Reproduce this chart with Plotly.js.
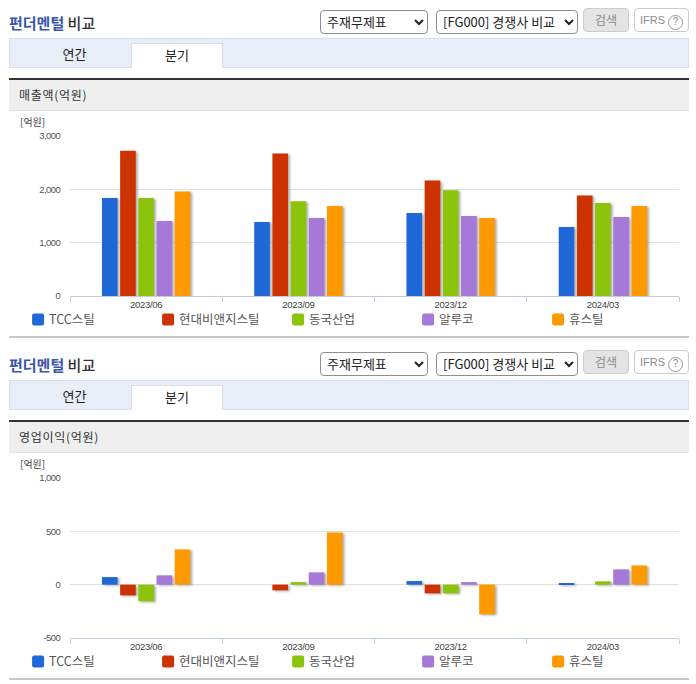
<!DOCTYPE html>
<html><head><meta charset="utf-8">
<script src="https://cdn.plot.ly/plotly-3.0.1.min.js"></script>
<style>
html,body{margin:0;padding:0;background:#fff;width:696px;height:684px;overflow:hidden;font-family:"Noto Sans CJK KR",sans-serif;}
.abs{position:absolute;box-sizing:border-box;}
.ttl{font-size:15px;font-weight:500;color:#333;left:9px;line-height:20px;white-space:nowrap;}
.ttl b{color:#3b56a8;font-weight:700;}
select{font-family:"Noto Sans CJK KR",sans-serif;font-size:13px;color:#222;background:#fff;border:1px solid #8f8f8f;border-radius:4px;padding:0 0 0 2px;height:24px;}
.btn{height:24px;border-radius:4px;font-size:12px;line-height:22px;text-align:center;color:#8c8c8c;border:1px solid #ccc;}
.tabbar{left:9px;width:680px;height:30px;background:#e8eef8;border:1px solid #d8dfea;}
.tab{height:25px;line-height:22px;font-size:13px;color:#222;text-align:center;}
.tab.on{background:#fff;border:1px solid #d8dfea;border-bottom:none;}
.dark{left:9px;width:680px;height:2px;background:#333;}
.hd{left:9px;width:680px;height:31px;background:#efefef;border-bottom:1px solid #e2e2e2;font-size:12px;line-height:30px;color:#333;padding-left:10px;letter-spacing:.7px;}
.unit{left:20px;font-size:10px;color:#444;line-height:12px;}
.sep{left:9px;width:680px;height:2px;background:#c8c8c8;}
.chart{left:0;width:696px;height:224px;}
.barlayer .point path{filter:drop-shadow(2px 1px 1px rgba(110,110,110,.55));}
.legendpoints path{d:path("M-4,-6H4A2,2 0 0 1 6,-4V4A2,2 0 0 1 4,6H-4A2,2 0 0 1 -6,4V-4A2,2 0 0 1 -4,-6Z");}
.legendsymbols{transform:translateX(9px);}
.xtick text{letter-spacing:-.3px;}
.ytick text{letter-spacing:-.6px;}
</style></head><body>
<div id="page"></div>
<script>
const categories = ["2023/06","2023/09","2023/12","2024/03"];
const seriesNames = ["TCC스틸","현대비앤지스틸","동국산업","알루코","휴스틸"];
const seriesColors = ["#2068d8","#cc3300","#8cc40c","#a678d8","#ff9900"];

const salesTcc = [1836,1389,1557,1296];
const salesHyundai = [2724,2674,2166,1886];
const salesDongkuk = [1836,1775,1985,1743];
const salesAluko = [1408,1464,1501,1482];
const salesHuSteel = [1961,1687,1464,1687];

const profitTcc = [71,null,34,12];
const profitHyundai = [-100,-53,-81,null];
const profitDongkuk = [-156,24,-81,31];
const profitAluko = [87,115,24,143];
const profitHuSteel = [330,489,-278,180];

const salesTicks = [0,1000,2000,3000];
const salesTickText = ["0","1,000","2,000","3,000"];
const profitTicks = [-500,0,500,1000];
const profitTickText = ["-500","0","500","1,000"];

const page = document.getElementById('page');
function el(cls, css, html){
  const d=document.createElement('div');
  d.className='abs '+cls;
  d.style.cssText=css;
  if(html) d.innerHTML=html;
  page.appendChild(d);
  return d;
}
function section(y, heading, chartId){
  el('ttl','top:'+(13+y)+'px','<b>펀더멘털</b> 비교');
  el('', 'left:320px;top:'+(8+y)+'px','<select style="width:108px"><option>주재무제표</option></select>');
  el('', 'left:436px;top:'+(8+y)+'px','<select style="width:142px"><option>[FG000] 경쟁사 비교</option></select>');
  el('btn','left:583px;top:'+(8+y)+'px;width:46px;background:#e4e4e4;','검색');
  el('btn','left:634px;top:'+(8+y)+'px;width:55px;background:#fff;font-family:Liberation Sans;font-size:11px;','IFRS <span style="display:inline-block;width:13px;height:13px;line-height:12px;border:1px solid #999;border-radius:50%;font-size:10px;vertical-align:-1px;">?</span>');
  el('tabbar','top:'+(38+y)+'px');
  el('tab','left:14px;width:121px;top:'+(43+y)+'px','연간');
  el('tab on','left:131px;width:92px;top:'+(43+y)+'px','분기');
  el('dark','top:'+(78+y)+'px');
  el('hd','top:'+(80+y)+'px',heading);
  const c=el('chart','top:'+(112+y)+'px');
  c.id=chartId;
  el('unit','top:'+(116+y)+'px','[억원]');
  el('sep','top:'+(336+y)+'px');
}
section(0,'매출액(억원)','c1');
section(342,'영업이익(억원)','c2');

function draw(id, allY, range, tv, tt){
  const traces = allY.map((y,i)=>({
    type:'bar', name:seriesNames[i], x:categories, y:y,
    marker:{color:seriesColors[i]}, hoverinfo:'x+y+name'
  }));
  const layout = {
    width:696, height:224,
    margin:{l:70,r:16.5,t:23.5,b:39.5,pad:0,autoexpand:false},
    paper_bgcolor:'rgba(0,0,0,0)', plot_bgcolor:'rgba(0,0,0,0)',
    barmode:'group', bargap:0.403, bargroupgap:0.14,
    font:{family:'"Noto Sans CJK KR","Liberation Sans",sans-serif',size:12,color:'#444'},
    xaxis:{type:'category', tickson:'boundaries', ticks:'outside', ticklen:5, tickwidth:1, tickcolor:'#c0d0e0',
      showline:true, linecolor:'#c0d0e0', linewidth:1, showgrid:false, zeroline:false,
      tickfont:{family:'"Liberation Sans",sans-serif',size:9.5,color:'#444'}, automargin:false, fixedrange:true},
    yaxis:{range:range, tickmode:'array', tickvals:tv, ticktext:tt, showgrid:true, gridcolor:'#e0e0e0', gridwidth:1,
      zeroline:true, zerolinecolor:'#e0e0e0', zerolinewidth:1, showline:false, ticks:'outside', ticklen:7, tickcolor:'rgba(0,0,0,0)',
      tickfont:{family:'"Liberation Sans",sans-serif',size:9.5,color:'#555'}, automargin:false, fixedrange:true},
    showlegend:true,
    legend:{orientation:'h', x:-0.1, xanchor:'left', y:-0.055, yanchor:'top', traceorder:'normal',
      entrywidth:85, entrywidthmode:'pixels', itemclick:false, itemdoubleclick:false,
      bgcolor:'rgba(0,0,0,0)', font:{size:12.5,color:'#555'}}
  };
  return Plotly.newPlot(id, traces, layout, {displayModeBar:false});
}
draw('c1',[salesTcc,salesHyundai,salesDongkuk,salesAluko,salesHuSteel],[0,3000],salesTicks,salesTickText);
draw('c2',[profitTcc,profitHyundai,profitDongkuk,profitAluko,profitHuSteel],[-500,1000],profitTicks,profitTickText);
</script>
</body></html>
